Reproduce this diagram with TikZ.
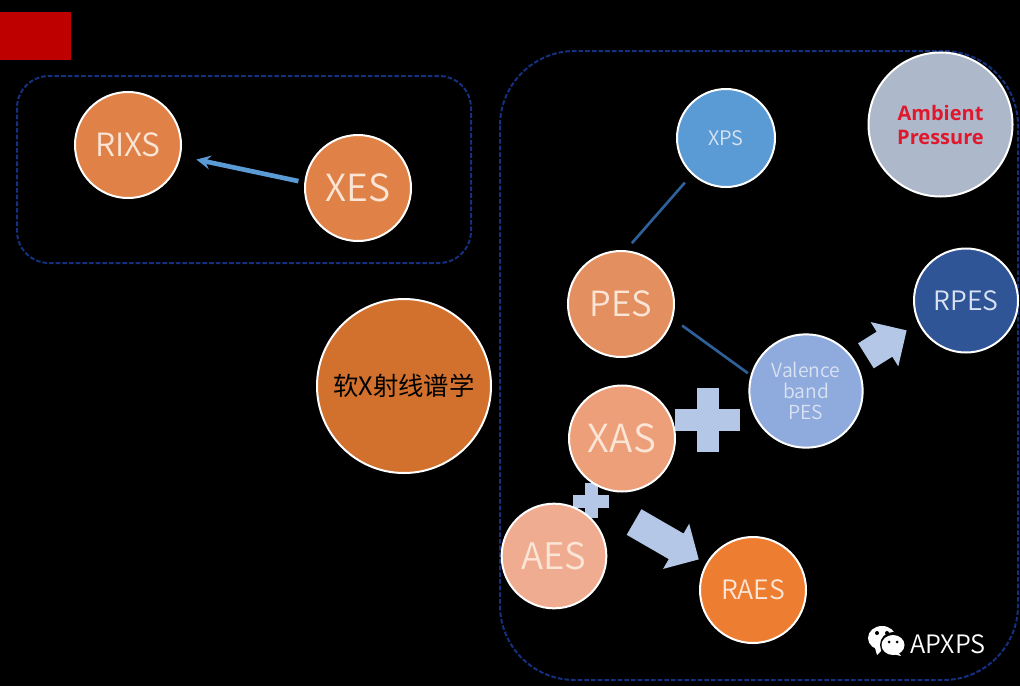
\documentclass[tikz,border=0pt]{standalone}
\usepackage{fontspec}
\setmainfont{Noto Sans CJK SC}[UprightFont=* DemiLight]
\newfontfamily\labelfont{Open Sans}
\newfontfamily\cjkfont{Noto Sans CJK SC}
\usetikzlibrary{shapes.arrows}
\definecolor{boxblue}{HTML}{14307F}
\definecolor{palefill}{HTML}{B4C7E7}
\definecolor{peach}{HTML}{FBE5D6}
\definecolor{paleblue}{HTML}{DAE3F3}
\definecolor{rixsfill}{HTML}{E08248}
\definecolor{softfill}{HTML}{D2702D}
\definecolor{xpsfill}{HTML}{5B9BD5}
\definecolor{ambientfill}{HTML}{ADB9CA}
\definecolor{pesfill}{HTML}{E48F5F}
\definecolor{xasfill}{HTML}{EC9F78}
\definecolor{aesfill}{HTML}{F0AC90}
\definecolor{raesfill}{HTML}{ED7D31}
\definecolor{rpesfill}{HTML}{2F5597}
\definecolor{valencefill}{HTML}{8FAADC}
\definecolor{linkblue}{HTML}{2E6099}
\definecolor{ambientred}{HTML}{E0182D}
\tikzstyle{bubble} =
[
	circle
	, inner sep=0pt
	, minimum size=79.5pt
	, draw=white
	, line width=1.5pt
	, text=peach
	, font=\fontsize{24}{26}\selectfont
]
\tikzstyle{framebox} = [draw=boxblue, line width=1.5pt, dash pattern=on 3.5pt off 1.5pt]
\tikzstyle{link} = [line width=2pt, draw=linkblue]
\tikzstyle{plusmark} = [fill=palefill]
\tikzstyle{blockarrow} =
[
	single arrow
	, fill=palefill
	, inner sep=0pt
	, single arrow head indent=0pt
	, single arrow head extend=8.5pt
	, text height=21.75pt
	, text depth=0pt
]

\begin{document}
\begin{tikzpicture}[x=0.75pt, y=-0.75pt]

\useasboundingbox (0,0) rectangle (1020,686);
\fill[black] (0,0) rectangle (1020,686);
\fill[red!75!black] (0,12) rectangle (71,60);

\draw[framebox, rounded corners=24pt] (17,76) rectangle (471,263);
\draw[framebox, rounded corners=56pt] (500,51) rectangle (1018,680);

% plus signs between the circles
\fill[plusmark] (675,409) rectangle (740,431);
\fill[plusmark] (697,388) rectangle (719,452);
\fill[plusmark] (573,495) rectangle (609,508);
\fill[plusmark] (585,483) rectangle (598,518);

\node(arrowraes)[blockarrow, minimum height=56pt, rotate=-30] at (660,537){};
\node(arrowrpes)[blockarrow, minimum height=36pt, rotate=32] at (880,347){};

\node(rixs)[bubble, fill=rixsfill, font=\fontsize{24}{26}\selectfont] at (128,145){RIXS};
\node(xes)[bubble, fill=rixsfill, font=\fontsize{28}{30}\selectfont] at (358,188){XES};
\node(soft)[bubble, fill=softfill, minimum size=130.5pt, text=black, font=\cjkfont\fontsize{19}{21}\selectfont] at (404,386){软X射线谱学};
\node(xps)[bubble, fill=xpsfill, minimum size=73.5pt, text=paleblue, font=\fontsize{15}{17}\selectfont] at (726,138){XPS};
\node(ambient)[bubble, fill=ambientfill, minimum size=108pt, text=ambientred, font=\labelfont\bfseries\fontsize{15}{18}\selectfont, align=center] at (940.5,124.5){Ambient\\Pressure};
\node(pes)[bubble, fill=pesfill, font=\fontsize{26}{28}\selectfont] at (621,304){PES};
\node(rpes)[bubble, fill=rpesfill, minimum size=78pt, text=paleblue, font=\fontsize{20}{22}\selectfont] at (966,300.5){RPES};
\node(valence)[bubble, fill=valencefill, minimum size=85pt, text=paleblue, font=\fontsize{14.5}{16}\selectfont, align=center] at (806,391){Valence\\band\\PES};
\node(xas)[bubble, fill=xasfill, font=\fontsize{29}{31}\selectfont] at (622,438.5){XAS};
\node(aes)[bubble, fill=aesfill, minimum size=78.5pt, font=\fontsize{27.5}{30}\selectfont] at (554,556){AES};
\node(raes)[bubble, fill=raesfill, font=\fontsize{20}{22}\selectfont] at (753,590){RAES};

\draw[link, shorten <=7pt, shorten >=8pt](pes.85)--(xps.227);
\draw[link, shorten <=8.5pt, shorten >=2.5pt](pes.-16)--(valence.164);
\draw[line width=3.5pt, draw=xpsfill, -stealth, shorten <=4.5pt, shorten >=12pt](xes.174)--(rixs.-12);

% wechat mark
\fill[white] (882,638) ellipse (14 and 12);
\fill[white] (875,648) -- (877,655) -- (884,648) -- cycle;
\fill[black] (893,645) circle (13);
\fill[white] (893,645) ellipse (11.5 and 10);
\fill[white] (898,652) -- (901,656) -- (893,654) -- cycle;
\fill[black] (877,633) circle (2);
\fill[black] (887,633) circle (2);
\fill[black] (889,642) circle (1.5);
\fill[black] (897,642) circle (1.5);
\node(wechat)[text=white, inner sep=0pt, font=\fontsize{19}{21}\selectfont, anchor=west] at (910,644){APXPS};

\end{tikzpicture}
\end{document}
